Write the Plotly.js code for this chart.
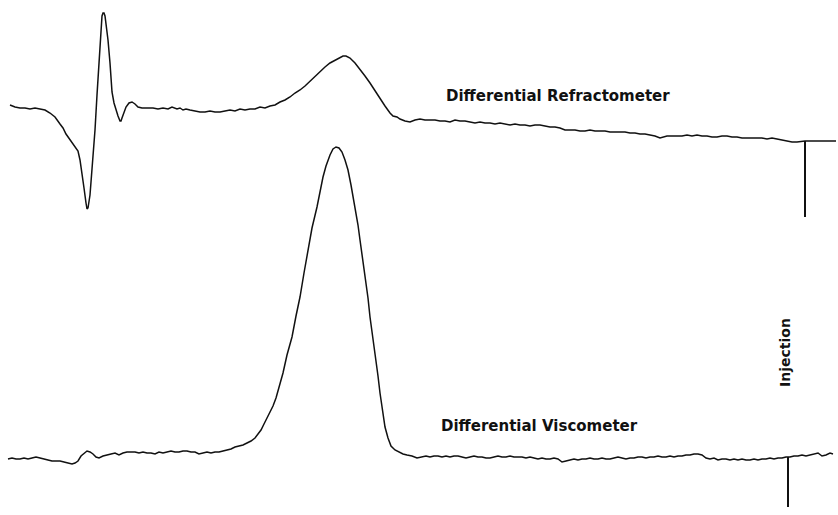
<!DOCTYPE html>
<html>
<head>
<meta charset="utf-8">
<script src="https://cdn.plot.ly/plotly-3.0.1.min.js"></script>
<style>html,body{margin:0;padding:0;background:#fff;}#chart{width:838px;height:515px;}</style>
</head>
<body>
<div id="chart"></div>
<script>
// Elution position (horizontal) and detector trace position (vertical, downward)
const riTime = [10,15,20,25,30,35,40,45,50,55,60,63,66,70,74,78,80,82,84,86,87,88,89,90,91,93,95,97,99,100,101,102,103,104,105,106,108,110,111,112,114,116,118,120,121,122,124,126,129,132,135,138,142,148,153,158,163,168,172,177,180,183,186,190,195,200,205,210,215,220,225,230,235,240,245,250,255,260,265,270,275,280,285,290,295,300,305,310,315,320,325,330,335,340,343,346,350,355,360,365,370,375,380,385,390,393,397,400,405,410,415,420,425,430,435,440,445,450,455,460,465,470,475,480,485,490,495,500,505,510,515,520,525,530,535,540,545,550,555,560,565,570,575,580,585,590,595,600,605,610,615,620,625,630,635,640,645,650,655,660,663,667,672,677,682,687,692,697,702,707,712,717,722,727,732,737,742,747,752,757,762,767,772,777,782,787,792,797,802,805,810,815,820,825,830,836];
const riSignal = [105,107,108,108,109,108,109,110,113,117,124,128,134,140,145,151,160,172,188,203,209,208,203,195,182,160,130,95,60,42,25,16,13,13,16,24,40,63,80,92,103,110,116,121,121,118,112,107,103,102,104,107,108,108,108,109,108,109,107,109,108,110,109,110,111,112,112,111,112,112,111,110,111,109,110,109,109,107,108,106,105,102,100,97,93,90,86,81,76,71,67,63,60,57,56,56,58,63,69,76,83,91,98,106,113,116,117,119,121,122,120,119,120,120,120,121,121,122,120,121,121,122,123,122,123,123,124,123,124,125,124,125,125,126,125,125,126,127,127,128,130,130,130,131,131,130,131,131,131,132,132,132,132,133,133,134,134,135,136,138,137,136,136,136,136,135,136,135,136,136,137,137,136,136,137,137,138,138,138,138,138,139,138,139,140,141,142,142,141,141,141,141,141,141,141,141];

const viTime = [8,12,16,20,24,28,32,36,40,44,48,52,56,60,64,68,72,75,78,81,84,87,90,93,96,99,103,107,111,115,119,123,127,131,135,139,143,147,151,155,159,163,167,171,175,179,183,187,191,195,199,203,207,211,215,219,223,227,231,235,239,243,247,251,255,258,261,264,267,270,273,276,279,283,287,292,296,300,304,308,312,317,320,323,326,330,333,336,339,342,345,348,351,355,358,360,363,365,368,370,373,375,378,380,383,385,388,391,395,399,403,407,412,417,422,426,430,434,438,442,446,450,454,458,462,466,470,474,478,482,486,490,494,498,502,506,510,514,518,522,526,530,534,538,542,546,550,554,558,562,566,570,574,578,582,586,590,594,598,602,606,610,614,618,622,626,630,634,638,642,646,650,654,658,662,666,670,674,678,682,686,690,694,698,702,706,710,714,718,722,726,730,734,738,742,746,750,754,758,762,766,770,774,778,782,786,790,794,798,802,806,810,814,818,822,826,830,833];
const viSignal = [459,458,459,459,458,459,458,457,458,459,460,461,461,461,462,463,464,463,461,456,453,451,452,454,457,458,456,455,454,453,455,453,452,452,452,453,452,453,453,454,452,453,452,451,452,452,451,451,452,452,454,453,452,453,452,452,451,450,449,447,446,445,443,441,438,434,430,424,418,412,406,398,388,373,355,337,316,297,273,250,228,207,190,177,166,155,149,147,148,152,160,170,185,207,225,240,260,277,298,317,338,357,376,393,412,427,438,446,450,452,454,455,456,458,457,456,457,456,456,457,456,457,456,456,457,458,457,456,457,457,458,458,457,456,457,457,456,457,457,457,458,457,458,459,458,459,459,458,459,462,461,460,459,460,459,459,458,459,459,458,459,459,458,457,458,459,458,458,457,457,458,457,457,456,457,457,456,457,456,456,455,455,454,454,455,458,459,458,460,459,459,460,459,460,459,460,460,459,460,459,459,458,459,458,458,457,457,456,456,455,456,455,454,453,456,455,453,454];

// Injection markers: position, top and bottom of each tick
const injTime = [805, 788];
const injTop = [141, 457];
const injBottom = [217, 507];

const labels = ["Differential Refractometer", "Differential Viscometer", "Injection"];

const line = {color: "#111", width: 1.5};
const traces = [
  {x: riTime, y: riSignal, mode: "lines", line: line, hoverinfo: "skip"},
  {x: viTime, y: viSignal, mode: "lines", line: line, hoverinfo: "skip"}
];
for (let i = 0; i < injTime.length; i++) {
  traces.push({x: [injTime[i], injTime[i]], y: [injTop[i], injBottom[i]], mode: "lines",
    line: {color: "#111", width: 2}, hoverinfo: "skip"});
}

const font = {family: "DejaVu Sans", size: 15, color: "#111", weight: "bold"};
const layout = {
  width: 838, height: 515,
  margin: {l: 0, r: 0, t: 0, b: 0},
  paper_bgcolor: "#fff", plot_bgcolor: "#fff",
  showlegend: false,
  xaxis: {range: [0, 838], visible: false, fixedrange: true},
  yaxis: {range: [515, 0], visible: false, fixedrange: true},
  annotations: [
    {x: 444, y: 96, xref: "x", yref: "y", text: labels[0], showarrow: false, xanchor: "left", yanchor: "middle", font: font},
    {x: 439, y: 426, xref: "x", yref: "y", text: labels[1], showarrow: false, xanchor: "left", yanchor: "middle", font: font},
    {x: 785, y: 353, xref: "x", yref: "y", text: labels[2], showarrow: false, textangle: -90, xanchor: "center", yanchor: "middle", font: Object.assign({}, font, {size: 14})}
  ]
};
Plotly.newPlot("chart", traces, layout, {staticPlot: true});
</script>
</body>
</html>
